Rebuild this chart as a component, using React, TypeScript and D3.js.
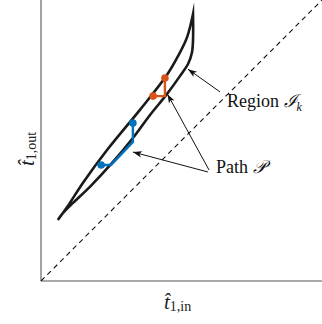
import React from 'react';
import * as d3 from 'd3';

// region I_k boundary: upper edge from the lower tip up to the top corner
const upperX = [0.6, 0.93, 1.49, 2.35, 3.52, 4.48, 4.88, 5.2, 5.41];
const upperY = [2.17, 2.63, 3.49, 4.66, 6.09, 7.33, 8.01, 8.68, 9.5];
// ...and the lower edge from the top corner back to the tip
const lowerX = [5.41, 5.41, 5.37, 5.24, 4.95, 4.48, 3.88, 3.27, 2.53, 1.74, 1.14, 0.75, 0.6];
const lowerY = [9.5, 8.58, 8.12, 7.74, 7.3, 6.65, 5.91, 5.09, 4.2, 3.35, 2.78, 2.38, 2.17];

// the two path pieces
const blueX = [2.14, 2.49, 3.27, 3.27];
const blueY = [4.13, 4.13, 4.95, 5.62];
const orangeX = [3.99, 4.41, 4.41];
const orangeY = [6.58, 6.58, 7.22];

// annotation arrows: [x0, y0, x1, y1]
const arrows = [
  [6.37, 6.73, 5.23, 7.54],
  [5.94, 3.88, 3.27, 4.59],
  [5.98, 3.95, 4.5, 6.65],
];

const W = 322;
const H = 324;
const serif = '"Liberation Serif", "DejaVu Serif", serif';

const App = () => {
  const x = d3.scaleLinear().domain([0, 10]).range([41, 322]);
  const y = d3.scaleLinear().domain([0, 10]).range([281, 0]);

  const curve = (xs: number[], ys: number[]) =>
    d3.line<number>()
      .x(i => x(xs[i]))
      .y(i => y(ys[i]))
      .curve(d3.curveCatmullRom.alpha(0.5))(xs.map((_, i) => i)) || '';

  // join both edges into one outline so the top corner stays sharp
  const regionD = curve(upperX, upperY) + curve(lowerX, lowerY).replace(/^M/, 'L');

  const poly = (xs: number[], ys: number[]) =>
    d3.line<number>().x(i => x(xs[i])).y(i => y(ys[i]))(xs.map((_, i) => i)) || '';

  const blue = '#0072bd';
  const orange = '#d95319';

  return (
    <svg width={W} height={H} style={{ position: 'absolute', left: 0, top: 0 }}>
      <defs>
        <marker id="ah" viewBox="0 0 10 10" refX="10" refY="5" markerWidth="9" markerHeight="9" orient="auto">
          <path d="M0,1.5 L10,5 L0,8.5 L2.5,5 Z" fill="#111" />
        </marker>
      </defs>
      <rect width={W} height={H} fill="#fff" />

      {/* axes */}
      <line x1={x(0)} x2={x(0)} y1={0} y2={y(0)} stroke="#8c8c8c" strokeWidth={1.6} />
      <line x1={x(0)} x2={W} y1={y(0)} y2={y(0)} stroke="#8c8c8c" strokeWidth={1.6} />

      {/* diagonal */}
      <line x1={x(0)} y1={y(0)} x2={x(10)} y2={y(10)} stroke="#111" strokeWidth={1.1} strokeDasharray="5,4" />

      {/* region */}
      <path d={regionD} fill="none" stroke="#1a1a1a" strokeWidth={2.6} strokeLinejoin="miter" strokeMiterlimit={20} />

      {/* path P */}
      <path d={poly(blueX, blueY)} fill="none" stroke={blue} strokeWidth={2.4} />
      {[0, blueX.length - 1].map(i => (
        <circle key={'b' + i} cx={x(blueX[i])} cy={y(blueY[i])} r={3.8} fill={blue} />
      ))}
      <path d={poly(orangeX, orangeY)} fill="none" stroke={orange} strokeWidth={2.4} />
      {[0, orangeX.length - 1].map(i => (
        <circle key={'o' + i} cx={x(orangeX[i])} cy={y(orangeY[i])} r={3.8} fill={orange} />
      ))}

      {/* arrows */}
      {arrows.map((a, i) => (
        <line key={i} x1={x(a[0])} y1={y(a[1])} x2={x(a[2])} y2={y(a[3])} stroke="#111" strokeWidth={1} markerEnd="url(#ah)" />
      ))}

      {/* labels */}
      <text x={227} y={107} fontFamily={serif} fontSize={18} fill="#111">
        Region <tspan fontStyle="italic">ℐ</tspan>
        <tspan fontStyle="italic" fontSize={12} dy={4}>k</tspan>
      </text>
      <text x={216} y={173} fontFamily={serif} fontSize={18} fill="#111">
        Path <tspan fontStyle="italic">𝒫</tspan>
      </text>

      <text x={164} y={309} fontFamily={serif} fontSize={21} fill="#222">
        <tspan fontStyle="italic">{'t\u0302'}</tspan>
        <tspan fontSize={14} dy={2}>1,in</tspan>
      </text>
      <text transform="translate(34,166) rotate(-90)" fontFamily={serif} fontSize={21} fill="#222">
        <tspan fontStyle="italic">{'t\u0302'}</tspan>
        <tspan fontSize={14} dy={2}>1,out</tspan>
      </text>
    </svg>
  );
};

export default App;
